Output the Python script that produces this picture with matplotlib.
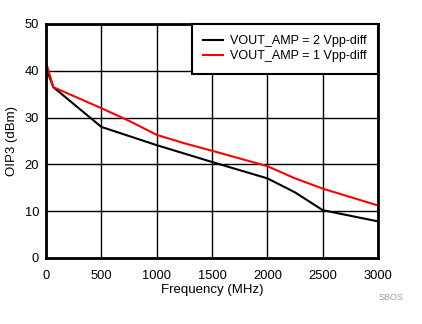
import numpy as np
import matplotlib.pyplot as plt

plt.rcParams['font.family'] = ['Liberation Sans', 'DejaVu Sans']

freq_2v = [10, 66, 500, 1000, 1500, 2000, 2250, 2500, 3000]
oip3_2v = [40.0, 36.5, 28.0, 24.1, 20.5, 17.0, 14.0, 10.2, 7.8]

freq_1v = [10, 66, 500, 750, 1000, 1250, 1500, 2000, 2250, 2500, 3000]
oip3_1v = [41.0, 36.5, 32.0, 29.3, 26.3, 24.5, 22.9, 19.6, 17.0, 14.8, 11.2]

labels = ['VOUT_AMP = 2 Vpp-diff', 'VOUT_AMP = 1 Vpp-diff']

fig = plt.figure(figsize=(4.22, 3.24), dpi=100)
ax = fig.add_axes([0.109, 0.204, 0.787, 0.722])

ax.plot(freq_2v, oip3_2v, color='black', lw=1.5, label=labels[0])
ax.plot(freq_1v, oip3_1v, color='#ff0000', lw=1.5, label=labels[1])

ax.set_xlim(0, 3000)
ax.set_ylim(0, 50)
ax.set_xticks(np.arange(0, 3001, 500))
ax.set_yticks(np.arange(0, 51, 10))
ax.grid(True, color='black', lw=1)
ax.tick_params(axis='x', length=0, labelsize=9.3, pad=9)
ax.tick_params(axis='y', length=0, labelsize=9.3, pad=5)
for s in ax.spines.values():
    s.set_linewidth(2)

ax.set_xlabel('Frequency (MHz)', fontsize=9.5, labelpad=1)
ax.set_ylabel('OIP3 (dBm)', fontsize=9.5, labelpad=5)

leg = ax.legend(loc='upper right', fontsize=9, fancybox=False, framealpha=1,
                edgecolor='black', borderaxespad=0, handlelength=1.6,
                handletextpad=0.6, labelspacing=0.25, borderpad=0.9)
leg.get_frame().set_linewidth(1.5)

fig.text(0.957, 0.073, 'SBOS', color='#a0a0a0', fontsize=6.5, ha='right')

fig.savefig('out.png', dpi=100)
